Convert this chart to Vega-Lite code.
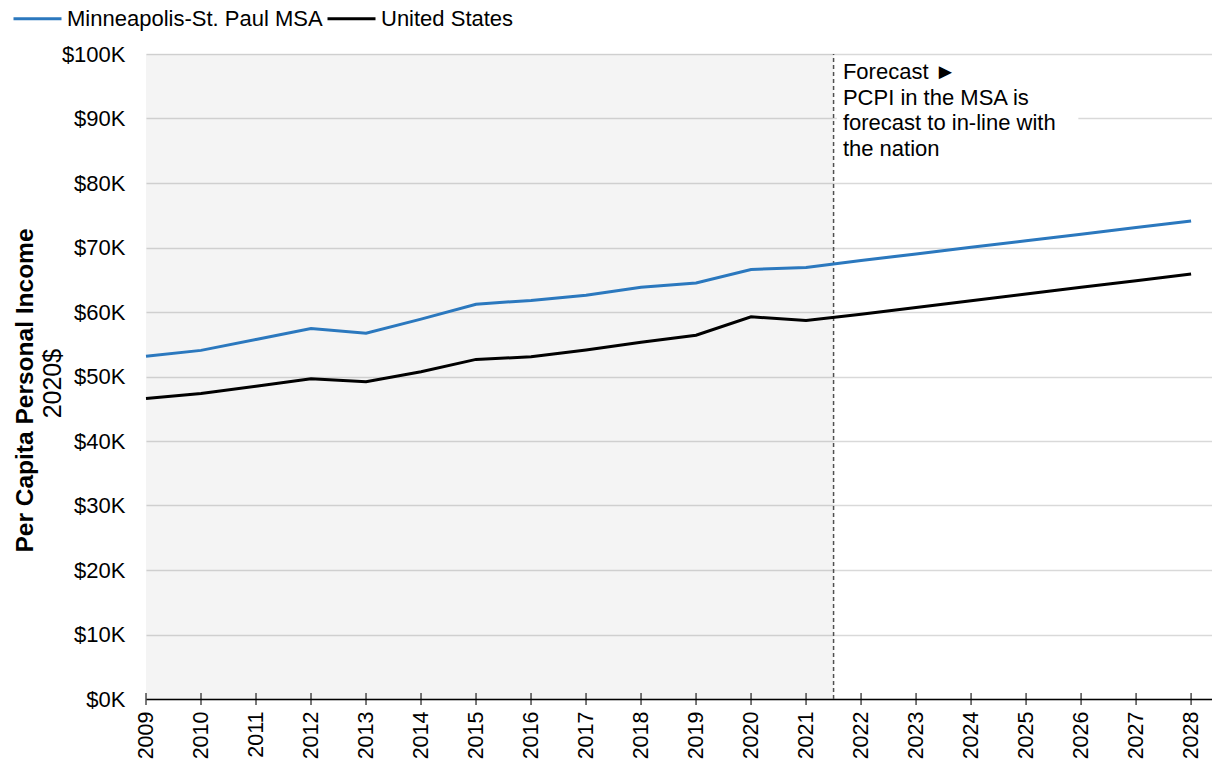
{
  "$schema": "https://vega.github.io/schema/vega-lite/v6.json",
  "width": 1066,
  "height": 645,
  "autosize": {"type": "none"},
  "padding": {"left": 146, "top": 54, "right": 0, "bottom": 62},
  "background": "white",
  "config": {
    "view": {"stroke": null},
    "font": "Liberation Sans",
    "text": {"font": "Liberation Sans"}
  },
  "data": {
    "values": [
      {"year": 2009, "series": "Minneapolis-St. Paul MSA", "value": 53150},
      {"year": 2010, "series": "Minneapolis-St. Paul MSA", "value": 54050},
      {"year": 2011, "series": "Minneapolis-St. Paul MSA", "value": 55750},
      {"year": 2012, "series": "Minneapolis-St. Paul MSA", "value": 57450},
      {"year": 2013, "series": "Minneapolis-St. Paul MSA", "value": 56700},
      {"year": 2014, "series": "Minneapolis-St. Paul MSA", "value": 58900},
      {"year": 2015, "series": "Minneapolis-St. Paul MSA", "value": 61200},
      {"year": 2016, "series": "Minneapolis-St. Paul MSA", "value": 61800},
      {"year": 2017, "series": "Minneapolis-St. Paul MSA", "value": 62600},
      {"year": 2018, "series": "Minneapolis-St. Paul MSA", "value": 63850},
      {"year": 2019, "series": "Minneapolis-St. Paul MSA", "value": 64500},
      {"year": 2020, "series": "Minneapolis-St. Paul MSA", "value": 66600},
      {"year": 2021, "series": "Minneapolis-St. Paul MSA", "value": 66900},
      {"year": 2022, "series": "Minneapolis-St. Paul MSA", "value": 68000},
      {"year": 2023, "series": "Minneapolis-St. Paul MSA", "value": 69000},
      {"year": 2024, "series": "Minneapolis-St. Paul MSA", "value": 70050},
      {"year": 2025, "series": "Minneapolis-St. Paul MSA", "value": 71050},
      {"year": 2026, "series": "Minneapolis-St. Paul MSA", "value": 72050},
      {"year": 2027, "series": "Minneapolis-St. Paul MSA", "value": 73100},
      {"year": 2028, "series": "Minneapolis-St. Paul MSA", "value": 74100},
      {"year": 2009, "series": "United States", "value": 46600},
      {"year": 2010, "series": "United States", "value": 47350},
      {"year": 2011, "series": "United States", "value": 48500},
      {"year": 2012, "series": "United States", "value": 49650},
      {"year": 2013, "series": "United States", "value": 49200},
      {"year": 2014, "series": "United States", "value": 50750},
      {"year": 2015, "series": "United States", "value": 52650},
      {"year": 2016, "series": "United States", "value": 53050},
      {"year": 2017, "series": "United States", "value": 54100},
      {"year": 2018, "series": "United States", "value": 55300},
      {"year": 2019, "series": "United States", "value": 56400},
      {"year": 2020, "series": "United States", "value": 59250},
      {"year": 2021, "series": "United States", "value": 58700},
      {"year": 2022, "series": "United States", "value": 59650},
      {"year": 2023, "series": "United States", "value": 60700},
      {"year": 2024, "series": "United States", "value": 61750},
      {"year": 2025, "series": "United States", "value": 62800},
      {"year": 2026, "series": "United States", "value": 63850},
      {"year": 2027, "series": "United States", "value": 64850},
      {"year": 2028, "series": "United States", "value": 65900}
    ]
  },
  "layer": [
    {
      "data": {"values": [{}]},
      "mark": {"type": "rect", "fill": "#000000", "fillOpacity": 0.045},
      "encoding": {
        "x": {
          "datum": 2009,
          "type": "quantitative",
          "scale": {"domain": [2009, 2028.38], "nice": false, "zero": false},
          "axis": {
            "values": [2009, 2010, 2011, 2012, 2013, 2014, 2015, 2016, 2017, 2018, 2019, 2020, 2021, 2022, 2023, 2024, 2025, 2026, 2027, 2028],
            "format": "d",
            "labelAngle": -90,
            "labelFontSize": 21.5,
            "labelColor": "#000000",
            "labelPadding": 12,
            "ticks": false,
            "grid": false,
            "domainColor": "#000000",
            "domainWidth": 1.5,
            "title": null
          }
        },
        "x2": {"datum": 2021.5},
        "y": {
          "datum": 0,
          "type": "quantitative",
          "scale": {"domain": [0, 100000], "nice": false},
          "axis": {
            "values": [0, 10000, 20000, 30000, 40000, 50000, 60000, 70000, 80000, 90000, 100000],
            "labelExpr": "'$' + (datum.value / 1000) + 'K'",
            "labelFontSize": 22,
            "labelColor": "#000000",
            "labelPadding": 21,
            "domain": false,
            "ticks": false,
            "grid": true,
            "gridColor": "#d9d9d9",
            "gridWidth": 1.5,
            "title": "Per Capita Personal Income",
            "titleFontSize": 24.5,
            "titleFontWeight": "bold",
            "titleColor": "#000000",
            "titleX": -109,
            "titleY": 336
          }
        },
        "y2": {"datum": 100000}
      }
    },
    {
      "data": {"values": [{}]},
      "mark": {"type": "rect", "fill": "white"},
      "encoding": {
        "x": {"datum": 2021.56, "type": "quantitative"},
        "x2": {"datum": 2025.95},
        "y": {"datum": 83800, "type": "quantitative"},
        "y2": {"datum": 99300}
      }
    },
    {
      "data": {"values": [{}]},
      "mark": {"type": "rule", "color": "#505050", "strokeWidth": 1.5, "strokeDash": [4, 3]},
      "encoding": {
        "x": {"datum": 2021.5, "type": "quantitative"},
        "y": {"datum": 0, "type": "quantitative"},
        "y2": {"datum": 100000}
      }
    },
    {
      "mark": {"type": "line", "strokeWidth": 3},
      "encoding": {
        "x": {"field": "year", "type": "quantitative"},
        "y": {"field": "value", "type": "quantitative"},
        "color": {
          "field": "series",
          "type": "nominal",
          "scale": {"domain": ["Minneapolis-St. Paul MSA", "United States"], "range": ["#2b78be", "#000000"]},
          "legend": {
            "orient": "none",
            "legendX": -134,
            "legendY": -61,
            "direction": "horizontal",
            "title": null,
            "symbolType": "stroke",
            "symbolSize": 2304,
            "symbolStrokeWidth": 3,
            "labelFontSize": 22,
            "labelLimit": 0,
            "labelColor": "#000000",
            "labelOffset": 4,
            "columnPadding": -2,
            "padding": 0
          }
        }
      }
    },
    {
      "transform": [{"filter": "datum.series === 'United States'"}],
      "mark": {"type": "tick", "orient": "vertical", "color": "#000000", "size": 12, "thickness": 1.5},
      "encoding": {
        "x": {"field": "year", "type": "quantitative"},
        "y": {"datum": 0, "type": "quantitative"}
      }
    },
    {
      "data": {"values": [{}]},
      "mark": {
        "type": "text",
        "text": ["Forecast ►", "PCPI in the MSA is", "forecast to in-line with", "the nation"],
        "align": "left",
        "baseline": "top",
        "fontSize": 22,
        "lineHeight": 25.5,
        "color": "#000000"
      },
      "encoding": {
        "x": {"datum": 2021.67, "type": "quantitative"},
        "y": {"datum": 98700, "type": "quantitative"}
      }
    },
    {
      "data": {"values": [{}]},
      "mark": {
        "type": "text",
        "text": "2020$",
        "angle": 270,
        "align": "center",
        "baseline": "middle",
        "fontSize": 25,
        "dy": -93,
        "color": "#000000"
      },
      "encoding": {
        "x": {"datum": 2009, "type": "quantitative"},
        "y": {"datum": 48900, "type": "quantitative"}
      }
    }
  ]
}
